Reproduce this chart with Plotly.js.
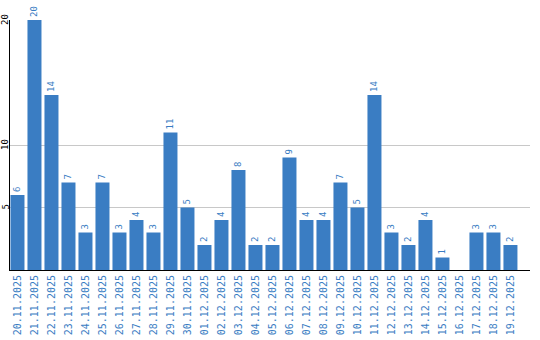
<!DOCTYPE html>
<html><head><meta charset="utf-8">
<script src="https://cdn.plot.ly/plotly-3.0.1.min.js"></script>
<style>html,body{margin:0;padding:0;background:#fff}#c{width:540px;height:340px}</style>
</head><body><div id="c"></div>
<script>
const dates = ["20.11.2025","21.11.2025","22.11.2025","23.11.2025","24.11.2025","25.11.2025","26.11.2025","27.11.2025","28.11.2025","29.11.2025","30.11.2025","01.12.2025","02.12.2025","03.12.2025","04.12.2025","05.12.2025","06.12.2025","07.12.2025","08.12.2025","09.12.2025","10.12.2025","11.12.2025","12.12.2025","13.12.2025","14.12.2025","15.12.2025","16.12.2025","17.12.2025","18.12.2025","19.12.2025"];
const counts = [6,20,14,7,3,7,3,4,3,11,5,2,4,8,2,2,9,4,4,7,5,14,3,2,4,1,null,3,3,2];
const yTicks = [5,10,20];

const blue = '#3a7dc3';
const trace = {
  type:'bar', x:dates, y:counts,
  text: counts.map(v => v == null ? '' : String(v)),
  textposition:'outside', textangle:-90, constraintext:'none', cliponaxis:false,
  textfont:{family:'DejaVu Sans Mono', size:9, color:blue},
  marker:{color:blue}, hoverinfo:'none'
};
const layout = {
  width:540, height:340,
  margin:{l:10, r:10, t:20, b:70, pad:0},
  paper_bgcolor:'#fff', plot_bgcolor:'#fff',
  showlegend:false, bargap:0.176,
  xaxis:{type:'category', range:[-0.44, 30.15], showline:true, linecolor:'#000', linewidth:1,
    ticks:'', tickangle:-90, showgrid:false, automargin:false,
    tickfont:{family:'DejaVu Sans Mono', size:10, color:blue}},
  yaxis:{range:[0,20], tickvals:yTicks, showticklabels:false, showline:true, linecolor:'#000', linewidth:1,
    ticks:'', showgrid:true, gridcolor:'#c8c8c8', gridwidth:1, zeroline:false, automargin:false},
  annotations: yTicks.map(v => ({
    xref:'paper', yref:'y', x:0, y:v, xanchor:'center', yanchor:'middle', xshift:-5,
    text:String(v), textangle:-90, showarrow:false,
    font:{family:'DejaVu Sans Mono', size:9, color:'#000'}
  }))
};
Plotly.newPlot('c',[trace],layout,{displayModeBar:false, staticPlot:true});
</script></body></html>
